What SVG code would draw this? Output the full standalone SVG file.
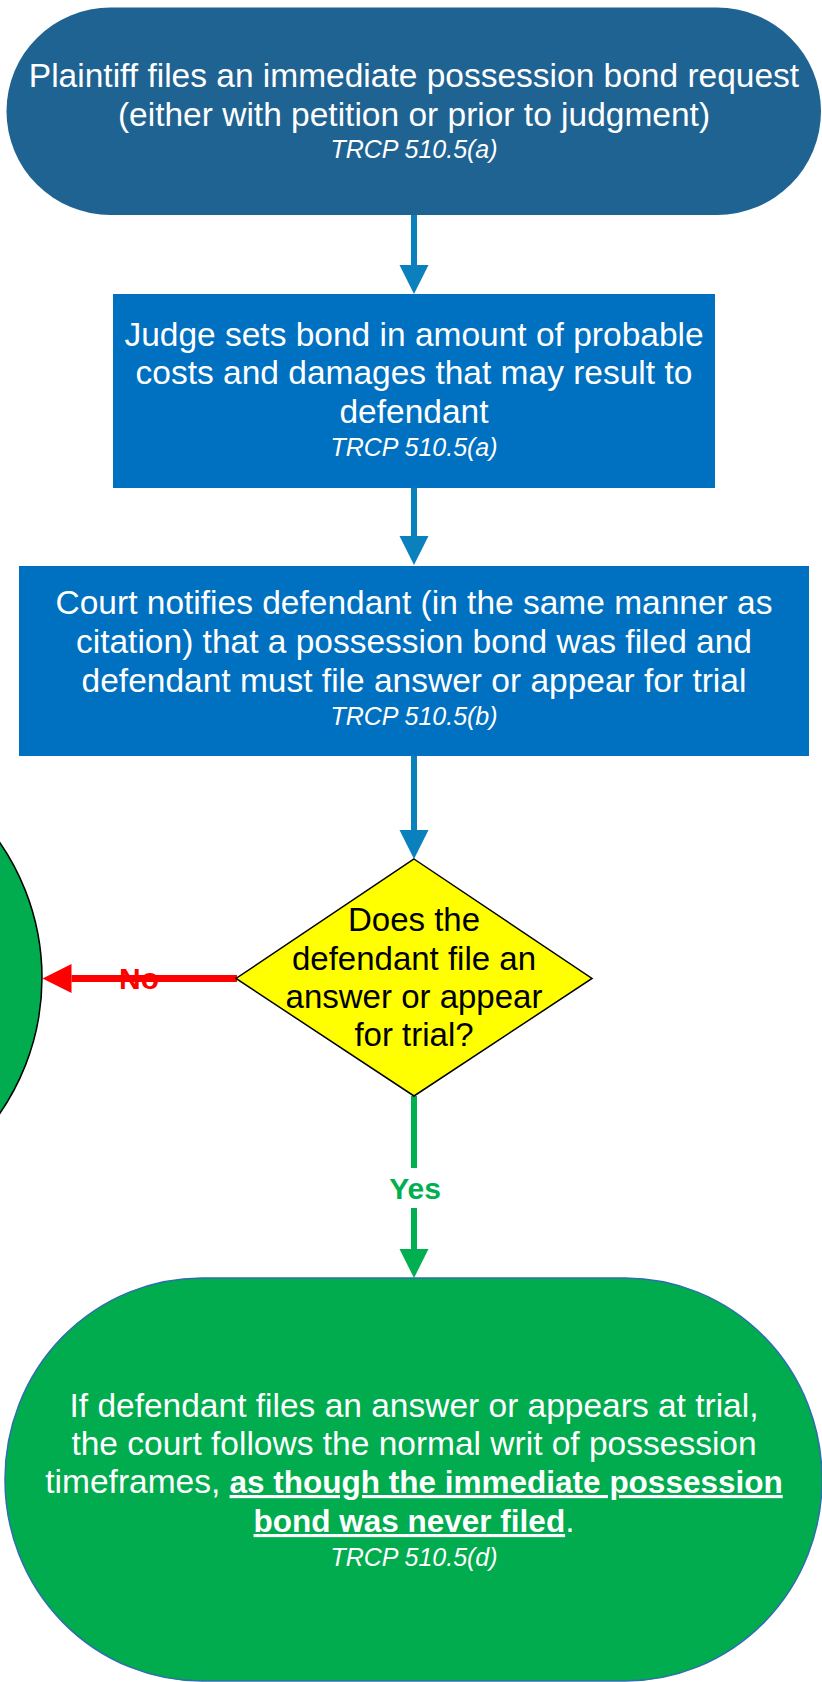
<svg xmlns="http://www.w3.org/2000/svg" width="822" height="1682" viewBox="0 0 822 1682">
<style>
text{font-family:"Liberation Sans",Arial,sans-serif;text-anchor:middle}
.w{fill:#FFFFFF;font-size:33.5px}
.k{fill:#000000;font-size:33px}
.ref{font-style:italic;font-size:25px;fill:#FFFFFF}
.b{font-weight:bold;text-decoration:underline;font-size:31.5px}
.lbl{font-weight:bold;font-size:30px}
.blue{stroke:#0A80BC;stroke-width:6;fill:none}
</style>
<defs>
<marker id="ahB" markerUnits="userSpaceOnUse" markerWidth="30" markerHeight="30" refX="0" refY="14.5" orient="auto" viewBox="0 0 30 30"><path d="M0,0 L29,14.5 L0,29 z" fill="#0A80BC"/></marker>
<marker id="ahR" markerUnits="userSpaceOnUse" markerWidth="30" markerHeight="30" refX="0" refY="14.5" orient="auto" viewBox="0 0 30 30"><path d="M0,0 L29,14.5 L0,29 z" fill="#FF0000"/></marker>
<marker id="ahG" markerUnits="userSpaceOnUse" markerWidth="30" markerHeight="30" refX="0" refY="14.5" orient="auto" viewBox="0 0 30 30"><path d="M0,0 L29,14.5 L0,29 z" fill="#00B050"/></marker>
</defs>
<rect width="822" height="1682" fill="#FFFFFF"/>

<g id="connectors">
<line class="blue" x1="414" y1="214" x2="414" y2="265" marker-end="url(#ahB)"/>
<line class="blue" x1="414" y1="488" x2="414" y2="536" marker-end="url(#ahB)"/>
<line class="blue" x1="414" y1="756" x2="414" y2="830" marker-end="url(#ahB)"/>
<line x1="237" y1="978.5" x2="71.5" y2="978.5" stroke="#FF0000" stroke-width="7" marker-end="url(#ahR)"/>
<text class="lbl" x="139" y="989" fill="#FF0000">No</text>
<line x1="414" y1="1096" x2="414" y2="1168" stroke="#00B050" stroke-width="6"/>
<line x1="414" y1="1208" x2="414" y2="1249" stroke="#00B050" stroke-width="6" marker-end="url(#ahG)"/>
<text class="lbl" x="415" y="1199" fill="#00B050">Yes</text>
</g>

<g id="node-start">
<rect x="6.5" y="7.5" width="814.5" height="207.5" rx="104" ry="104" fill="#1F6392"/>
<text class="w" x="414" y="87">Plaintiff files an immediate possession bond request</text>
<text class="w" x="414" y="126">(either with petition or prior to judgment)</text>
<text class="ref" x="414" y="158">TRCP 510.5(a)</text>
</g>

<g id="node-bond">
<rect x="113" y="294" width="602" height="194" fill="#0070C0"/>
<text class="w" x="414" y="346">Judge sets bond in amount of probable</text>
<text class="w" x="414" y="384">costs and damages that may result to</text>
<text class="w" x="414" y="423">defendant</text>
<text class="ref" x="414" y="456">TRCP 510.5(a)</text>
</g>

<g id="node-notify">
<rect x="19" y="566" width="790" height="190" fill="#0070C0"/>
<text class="w" x="414" y="614">Court notifies defendant (in the same manner as</text>
<text class="w" x="414" y="653">citation) that a possession bond was filed and</text>
<text class="w" x="414" y="692">defendant must file answer or appear for trial</text>
<text class="ref" x="414" y="725">TRCP 510.5(b)</text>
</g>

<g id="node-decision">
<polygon points="414,859 592,978.5 414,1096 236,978.5" fill="#FFFF00" stroke="#000000" stroke-width="1.5"/>
<text class="k" x="414" y="931">Does the</text>
<text class="k" x="414" y="970">defendant file an</text>
<text class="k" x="414" y="1008">answer or appear</text>
<text class="k" x="414" y="1046">for trial?</text>
</g>

<g id="node-no">
<ellipse cx="-196" cy="978" rx="238" ry="238" fill="#00AC4E" stroke="#000000" stroke-width="1.5"/>
</g>

<g id="node-yes">
<rect x="5" y="1278" width="817" height="403" rx="197" ry="201" fill="#00AC4E" stroke="#2E6FAE" stroke-width="1.5"/>
<text class="w" x="414" y="1417">If defendant files an answer or appears at trial,</text>
<text class="w" x="414" y="1455">the court follows the normal writ of possession</text>
<text class="w" x="414" y="1493">timeframes, <tspan class="b">as though the immediate possession</tspan></text>
<text class="w" x="414" y="1532"><tspan class="b">bond was never filed</tspan>.</text>
<text class="ref" x="414" y="1566">TRCP 510.5(d)</text>
</g>
</svg>
